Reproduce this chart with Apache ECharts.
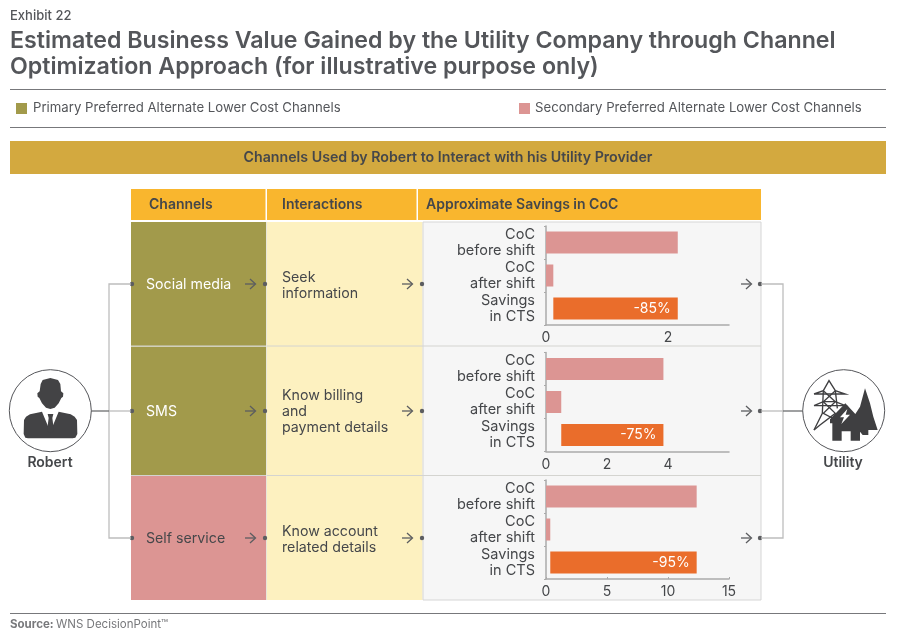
<!DOCTYPE html>
<html>
<head>
<meta charset="utf-8">
<script src="https://cdn.jsdelivr.net/npm/echarts@6/dist/echarts.min.js"></script>
<style>
html,body{margin:0;padding:0;background:#fff}
#main{width:900px;height:638px}
</style>
</head>
<body>
<div id="main"></div>
<script>
// chart data
var barLabels = ['CoC\nbefore shift', 'CoC\nafter shift', 'Savings\nin CTS'];
var channels = ['Social media', 'SMS', 'Self service'];
var interactions = ['Seek\ninformation', 'Know billing\nand\npayment details', 'Know account\nrelated details'];
var headers = ['Channels', 'Interactions', 'Approximate Savings in CoC'];
var socialCoc = [2.16, 0.12];
var smsCoc = [3.85, 0.5];
var selfCoc = [12.35, 0.35];
var savingsLabels = ['-85%', '-75%', '-95%'];
var axisMax = [3, 6, 15];
var axisStep = [2, 2, 5];

var FONT = 'Inter, "Open Sans", sans-serif';
var DARK = '#45474a';
var gridTops = [226, 352.5, 480];
var rowY = [284, 411, 538];

var chart = echarts.init(document.getElementById('main'));

// --- static layout helpers ---
function rect(x, y, w, h, fill, stroke) {
    return {type: 'rect', shape: {x: x, y: y, width: w, height: h},
        style: {fill: fill, stroke: stroke || null, lineWidth: stroke ? 1 : 0}, silent: true};
}
function text(str, x, y, size, weight, color, align) {
    return {type: 'text', silent: true, style: {text: str, x: x, y: y, fill: color || DARK,
        font: (weight || 'normal') + ' ' + size + 'px ' + FONT,
        textAlign: align || 'left', textVerticalAlign: 'middle', lineHeight: 16}};
}
function line(x1, y1, x2, y2, color, w) {
    return {type: 'line', silent: true, shape: {x1: x1, y1: y1, x2: x2, y2: y2},
        style: {stroke: color, lineWidth: w || 1}};
}
function dot(x, y) {
    return {type: 'circle', silent: true, shape: {cx: x, cy: y, r: 2.2}, style: {fill: '#5c5d60'}};
}
function poly(points, stroke) {
    return {type: 'polyline', silent: true, shape: {points: points},
        style: {stroke: stroke, lineWidth: 1.3, fill: null}};
}
function shape(points, fill) {
    return {type: 'polygon', silent: true, shape: {points: points}, style: {fill: fill}};
}
function wire(points) {
    return {type: 'polyline', silent: true, shape: {points: points},
        style: {stroke: '#3f3f41', lineWidth: 4, fill: null}};
}

var g = [];
g.push(text('Exhibit 22', 10, 16, 13, '500', '#54565a'));
g.push(text('Estimated Business Value Gained by the Utility Company through Channel', 10, 41.5, 23.2, '600', '#54565a'));
g.push(text('Optimization Approach (for illustrative purpose only)', 10, 67.5, 23.2, '600', '#54565a'));
g.push(line(10, 89.5, 886, 89.5, '#77787b', 1.2));
g.push(line(10, 127.5, 886, 127.5, '#77787b', 1.2));
g.push(rect(16, 103, 11, 11, '#a29a4b'));
g.push(text('Primary Preferred Alternate Lower Cost Channels', 33, 108.5, 13.2, 'normal', '#54565a'));
g.push(rect(519, 103, 11, 11, '#dc9593'));
g.push(text('Secondary Preferred Alternate Lower Cost Channels', 535, 108.5, 13.2, 'normal', '#54565a'));
g.push(rect(10, 141, 876, 33, '#d3a93f'));
g.push(text('Channels Used by Robert to Interact with his Utility Provider', 448, 157.5, 14.2, '600', DARK, 'center'));

// table header
g.push(rect(131, 189, 134.5, 31, '#f9b62e'));
g.push(rect(267, 189, 149.5, 31, '#f9b62e'));
g.push(rect(418, 189, 343, 31, '#f9b62e'));
g.push(text(headers[0], 149, 205, 14, '600', DARK));
g.push(text(headers[1], 282, 205, 14, '600', DARK));
g.push(text(headers[2], 426, 205, 14, '600', DARK));

// table body
g.push(rect(131, 222, 135, 124, '#a29a4b'));
g.push(rect(131, 346.5, 135, 129, '#a29a4b'));
g.push(rect(131, 476, 135, 124, '#dc9593'));
g.push(rect(266.5, 222, 156, 378, '#fdf1c0'));
g.push(rect(423, 222, 338, 378, '#f6f6f6', '#d6d6d6'));
g.push(line(131, 346, 761, 346, '#d4d4d0', 1));
g.push(line(131, 475.5, 761, 475.5, '#d4d4d0', 1));
g.push(line(266.5, 222, 266.5, 600, '#e8e6da', 1));

channels.forEach(function (c, i) {
    g.push(text(c, 146, rowY[i] + 1, 14.2, 'normal', i == 2 ? DARK : '#ffffff'));
    g.push(text(interactions[i], 282, rowY[i] + (i == 1 ? 0 : 1) + 0.5, 14.2, 'normal', DARK));
    [245, 402, 741].forEach(function (x) {
        g.push(poly([[x, rowY[i]], [x + 10, rowY[i]]], '#5c5d60'));
        g.push(poly([[x + 5, rowY[i] - 5], [x + 10.5, rowY[i]], [x + 5, rowY[i] + 5]], '#5c5d60'));
    });
    [132, 265, 422, 760].forEach(function (x) { g.push(dot(x, rowY[i])); });
});

// connectors
g.push(poly([[131, 284], [109, 284], [109, 538], [131, 538]], '#bdbdbd'));
g.push(line(109, 411, 131, 411, '#bdbdbd', 1.3));
g.push(line(91, 411, 109, 411, '#6b6c6e', 1.3));
g.push(poly([[761, 284], [783, 284], [783, 538], [761, 538]], '#bdbdbd'));
g.push(line(761, 411, 783, 411, '#bdbdbd', 1.3));
g.push(line(783, 411, 803, 411, '#6b6c6e', 1.3));

// Robert icon, points in 3x crop coordinates
g.push({type: 'circle', silent: true, shape: {cx: 50.3, cy: 410.7, r: 41}, style: {fill: '#fff', stroke: '#55565a', lineWidth: 1}});
g.push({type: 'group', silent: true, x: 0, y: 260, scaleX: 1 / 3, scaleY: 1 / 3, children: [
    shape([[122, 372], [128, 360], [151, 354], [174, 360], [181, 372], [183, 394], [190, 400], [189, 410], [184, 414], [176, 430], [164, 443], [151, 447], [138, 443], [126, 430], [118, 414], [113, 410], [112, 400], [119, 394]], '#434345'),
    shape([[72, 480], [78, 470], [90, 463], [126, 455], [151, 515], [176, 455], [212, 463], [224, 470], [231, 480], [232, 522], [226, 533], [218, 535], [84, 535], [76, 533], [71, 522]], '#434345'),
    shape([[143, 462], [160, 462], [157, 474], [162, 512], [151, 520], [141, 512], [146, 474]], '#434345')
]});
g.push(text('Robert', 50, 462.5, 14, '600', DARK, 'center'));

// Utility icon, points in 3x crop coordinates
g.push({type: 'circle', silent: true, shape: {cx: 843.7, cy: 410.7, r: 41}, style: {fill: '#fff', stroke: '#55565a', lineWidth: 1}});
g.push({type: 'group', silent: true, x: 730, y: 260, scaleX: 1 / 3, scaleY: 1 / 3, children: [
    wire([[252, 402], [346, 402], [316, 392], [297, 362], [280, 392], [252, 402]]),
    wire([[252, 437], [346, 437], [316, 425], [280, 425], [252, 437]]),
    wire([[280, 392], [277, 460], [252, 510]]),
    wire([[316, 392], [322, 445]]),
    wire([[280, 392], [316, 425], [280, 460], [318, 480]]),
    wire([[316, 392], [280, 425], [316, 460], [270, 495], [252, 510]]),
    shape([[300, 478], [346, 430], [376, 462], [390, 440], [405, 385], [420, 430], [430, 470], [443, 510], [415, 510], [415, 525], [398, 525], [390, 515], [390, 542], [362, 542], [362, 514], [335, 514], [335, 542], [307, 542], [307, 490], [300, 490]], '#3f3f41'),
    shape([[352, 447], [330, 472], [342, 472], [334, 492], [360, 464], [347, 464]], '#ffffff')
]});
g.push(text('Utility', 843, 462.5, 14, '600', DARK, 'center'));

g.push(line(10, 613.5, 886, 613.5, '#77787b', 1.2));
g.push(text('Source:', 10, 625, 11.5, '700', '#77787b'));
g.push(text('WNS DecisionPoint\u2122', 56, 625, 11.5, 'normal', '#77787b'));

// --- the three bar panels ---
var cocSets = [socialCoc, smsCoc, selfCoc];
var grids = [], xAxes = [], yAxes = [], series = [];
cocSets.forEach(function (coc, i) {
    grids.push({left: 546, width: 183, top: gridTops[i], height: 99});
    xAxes.push({type: 'value', gridIndex: i, min: 0, max: axisMax[i], interval: axisStep[i],
        splitLine: {show: false},
        axisLine: {show: true, lineStyle: {color: '#aaaaaa', width: 1.5}},
        axisTick: {show: i == 2, inside: true, length: 2, lineStyle: {color: '#aaaaaa'}},
        axisLabel: {color: DARK, fontFamily: FONT, fontSize: 14, margin: 6, showMaxLabel: i == 2}});
    yAxes.push({type: 'category', gridIndex: i, inverse: true, data: barLabels,
        axisLine: {show: true, lineStyle: {color: '#aaaaaa', width: 1.5}},
        axisTick: {show: true, length: 2, lineStyle: {color: '#aaaaaa'}},
        axisLabel: {interval: 0, hideOverlap: false, color: DARK, fontFamily: FONT, fontSize: 14.5, lineHeight: 16, margin: 11, align: 'right', padding: [2, 0, 0, 0]}});
    // hidden offset lifts the savings bar to start where "after shift" ends
    series.push({type: 'bar', stack: 's' + i, xAxisIndex: i, yAxisIndex: i, barWidth: 22, silent: true,
        itemStyle: {color: '#dc9593'},
        data: [coc[0], coc[1], {value: coc[1], itemStyle: {color: 'transparent'}}]});
    series.push({type: 'bar', stack: 's' + i, xAxisIndex: i, yAxisIndex: i, barWidth: 22, silent: true,
        itemStyle: {color: '#ea6d2b'},
        label: {show: true, position: 'insideRight', distance: 7, color: '#fff', fontFamily: FONT, fontSize: 14,
            formatter: savingsLabels[i]},
        data: [null, null, coc[0] - coc[1]]});
});

chart.setOption({
    backgroundColor: '#ffffff',
    animation: false,
    graphic: {elements: g},
    grid: grids,
    xAxis: xAxes,
    yAxis: yAxes,
    series: series
});
</script>
</body>
</html>
